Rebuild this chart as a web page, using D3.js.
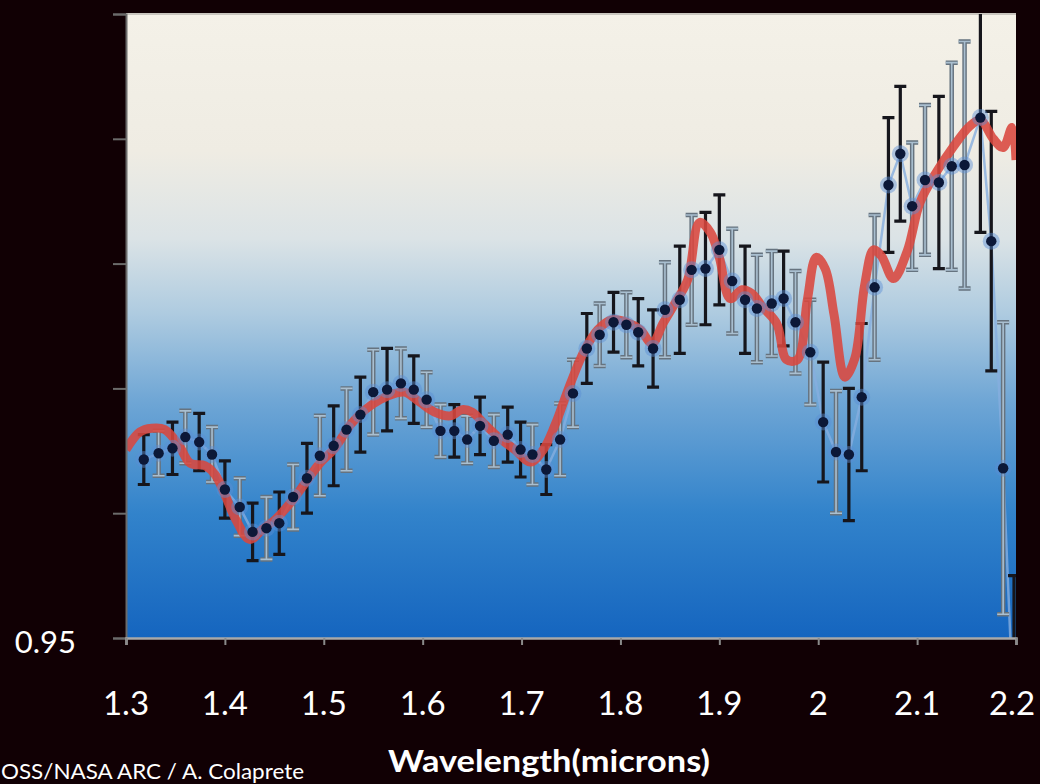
<!DOCTYPE html>
<html>
<head>
<meta charset="utf-8">
<script src="https://cdn.jsdelivr.net/npm/d3@7"></script>
<style>
  html, body { margin: 0; padding: 0; background: #110004; }
  svg { display: block; }
</style>
</head>
<body>
<svg id="chart"></svg>
<script>
"use strict";

// measured spectrum (wavelength in microns, relative reflectance, 1-sigma error, instrument group)
const wavelength = [1.318, 1.333, 1.347, 1.360, 1.374, 1.387, 1.400, 1.415, 1.428, 1.442,
  1.455, 1.469, 1.483, 1.496, 1.510, 1.523, 1.537, 1.550, 1.564, 1.578,
  1.591, 1.604, 1.618, 1.632, 1.645, 1.658, 1.672, 1.686, 1.699, 1.711,
  1.725, 1.739, 1.752, 1.766, 1.779, 1.793, 1.806, 1.818, 1.833, 1.845,
  1.860, 1.872, 1.886, 1.900, 1.913, 1.926, 1.938, 1.953, 1.965, 1.977,
  1.992, 2.005, 2.018, 2.031, 2.044, 2.057, 2.071, 2.083, 2.095, 2.108,
  2.122, 2.135, 2.148, 2.164, 2.175, 2.187, 2.198];
const reflect = [0.9643, 0.9648, 0.9652, 0.9661, 0.9657, 0.9647, 0.9619, 0.9605, 0.9585, 0.9588,
  0.9592, 0.9613, 0.9628, 0.9646, 0.9654, 0.9667, 0.9679, 0.9697, 0.9699, 0.9704,
  0.9699, 0.9691, 0.9666, 0.9666, 0.9659, 0.9670, 0.9658, 0.9663, 0.9651, 0.9647,
  0.9635, 0.9659, 0.9696, 0.9732, 0.9743, 0.9753, 0.9751, 0.9745, 0.9732, 0.9763,
  0.9771, 0.9795, 0.9796, 0.9811, 0.9786, 0.9771, 0.9764, 0.9768, 0.9772, 0.9753,
  0.9729, 0.9673, 0.9649, 0.9647, 0.9693, 0.9781, 0.9863, 0.9888, 0.9846, 0.9867,
  0.9865, 0.9878, 0.9879, 0.9917, 0.9818, 0.9636, 0.9430];
const errBar = [0.0020, 0.0018, 0.0021, 0.0021, 0.0023, 0.0022, 0.0023, 0.0023, 0.0023, 0.0025,
  0.0025, 0.0026, 0.0028, 0.0032, 0.0032, 0.0033, 0.0030, 0.0034, 0.0033, 0.0028,
  0.0027, 0.0022, 0.0021, 0.0021, 0.0019, 0.0023, 0.0021, 0.0022, 0.0022, 0.0024,
  0.0020, 0.0029, 0.0027, 0.0028, 0.0025, 0.0024, 0.0026, 0.0027, 0.0031, 0.0038,
  0.0043, 0.0044, 0.0045, 0.0044, 0.0042, 0.0043, 0.0043, 0.0042, 0.0038, 0.0041,
  0.0042, 0.0048, 0.0049, 0.0053, 0.0059, 0.0058, 0.0054, 0.0054, 0.0051, 0.0060,
  0.0069, 0.0083, 0.0099, 0.0092, 0.0104, 0.0117, 0.0120];
const group = ["d","l","d","l","d","l","d","l","d","l","d","l","d","l","d","l","d","l","d","l",
  "d","l","l","d","l","d","l","d","d","l","d","l","l","d","l","d","l","d","d","l",
  "d","l","d","d","l","d","l","l","d","l","l","d","l","d","d","l","d","d","l","l",
  "d","l","l","d","d","l","d"];

// model fit (red curve)
const modelWl = [1.300, 1.314, 1.326, 1.339, 1.353, 1.365, 1.380, 1.390, 1.400, 1.411,
  1.425, 1.438, 1.451, 1.466, 1.481, 1.496, 1.511, 1.527, 1.542, 1.557,
  1.572, 1.582, 1.597, 1.612, 1.628, 1.640, 1.650, 1.663, 1.678, 1.693,
  1.709, 1.722, 1.734, 1.749, 1.764, 1.777, 1.791, 1.806, 1.820, 1.832,
  1.843, 1.855, 1.868, 1.880, 1.891, 1.900, 1.911, 1.923, 1.933, 1.944,
  1.958, 1.968, 1.979, 1.989, 1.998, 2.007, 2.016, 2.027, 2.037, 2.047,
  2.056, 2.064, 2.076, 2.090, 2.103, 2.120, 2.136, 2.153, 2.164, 2.177,
  2.187, 2.196, 2.200];
const modelVal = [0.9651, 0.9665, 0.9668, 0.9667, 0.9655, 0.9640, 0.9638, 0.9631, 0.9615, 0.9595,
  0.9579, 0.9587, 0.9595, 0.9608, 0.9624, 0.9640, 0.9652, 0.9671, 0.9683, 0.9691,
  0.9696, 0.9697, 0.9689, 0.9681, 0.9678, 0.9683, 0.9681, 0.9671, 0.9660, 0.9651,
  0.9641, 0.9651, 0.9671, 0.9703, 0.9731, 0.9747, 0.9755, 0.9753, 0.9747, 0.9736,
  0.9752, 0.9768, 0.9787, 0.9833, 0.9825, 0.9805, 0.9772, 0.9779, 0.9776, 0.9765,
  0.9752, 0.9723, 0.9723, 0.9771, 0.9805, 0.9796, 0.9759, 0.9709, 0.9724, 0.9783,
  0.9811, 0.9806, 0.9788, 0.9810, 0.9849, 0.9874, 0.9893, 0.9910, 0.9915, 0.9900,
  0.9893, 0.9909, 0.9883];

const xTicks = [1.3, 1.4, 1.5, 1.6, 1.7, 1.8, 1.9, 2.0, 2.1, 2.2];
const yTicks = [0.95, 0.96, 0.97, 0.98, 0.99, 1.00];
const yLabelled = [0.95];

const W = 1040, H = 784;
const plot_left = 126, plot_right = 1016, plot_top = 14, plot_bottom = 638;

const svg = d3.select("#chart").attr("width", W).attr("height", H);

const x_scale = d3.scaleLinear().domain([1.3, 2.2]).range([plot_left, plot_right]);
const y_scale = d3.scaleLinear().domain([0.95, 1.0]).range([plot_bottom, plot_top]);

svg.append("rect").attr("width", W).attr("height", H).attr("fill", "#110004");

const defs = svg.append("defs");
const grad = defs.append("linearGradient").attr("id", "bg_grad")
  .attr("x1", 0).attr("y1", 0).attr("x2", 0).attr("y2", 1);
[["0%", "#f4f1e8"], ["22%", "#efece3"], ["36%", "#dbe3e6"], ["48%", "#aecbe0"],
 ["62%", "#6fa6d5"], ["80%", "#3283cb"], ["100%", "#1565bf"]]
  .forEach(s => grad.append("stop").attr("offset", s[0]).attr("stop-color", s[1]));

defs.append("clipPath").attr("id", "plot_clip").append("rect")
  .attr("x", plot_left).attr("y", plot_top)
  .attr("width", plot_right - plot_left).attr("height", plot_bottom - plot_top);

svg.append("rect")
  .attr("x", plot_left).attr("y", plot_top)
  .attr("width", plot_right - plot_left).attr("height", plot_bottom - plot_top)
  .attr("fill", "url(#bg_grad)");

// top border
svg.append("line")
  .attr("x1", plot_left).attr("x2", plot_right)
  .attr("y1", plot_top).attr("y2", plot_top)
  .attr("stroke", "#c9c6bf").attr("stroke-width", 2);

const data = wavelength.map((w, i) => ({ w: w, v: reflect[i], e: errBar[i], g: group[i] }));
const model = modelWl.map((w, i) => ({ w: w, v: modelVal[i] }));

const g_data = svg.append("g").attr("clip-path", "url(#plot_clip)");

// thin line joining the measured points
g_data.append("path")
  .datum(data)
  .attr("fill", "none")
  .attr("stroke", "#86aede")
  .attr("stroke-width", 2.5)
  .attr("opacity", 0.8)
  .attr("d", d3.line().x(d => x_scale(d.w)).y(d => y_scale(d.v)));

// error bars
const cap = 6;
const bars = g_data.selectAll(".err").data(data).enter().append("g").attr("class", "err");

const barPath = d => {
  const x = x_scale(d.w), y0 = y_scale(d.v + d.e), y1 = y_scale(d.v - d.e);
  return "M" + x + "," + y0 + "V" + y1 +
    "M" + (x - cap) + "," + y0 + "H" + (x + cap) +
    "M" + (x - cap) + "," + y1 + "H" + (x + cap);
};

bars.append("path")
  .attr("d", barPath)
  .attr("fill", "none")
  .attr("stroke", d => d.g == "d" ? "#16161c" : "#66737f")
  .attr("stroke-width", d => d.g == "d" ? 3.2 : 4.5);

bars.filter(d => d.g == "l").append("path")
  .attr("d", barPath)
  .attr("fill", "none")
  .attr("stroke", "#a9bfd0")
  .attr("stroke-width", 1.6);

// model curve
g_data.append("path")
  .datum(model)
  .attr("fill", "none")
  .attr("stroke", "#d9473d")
  .attr("stroke-width", 9)
  .attr("stroke-linejoin", "round")
  .attr("opacity", 0.88)
  .attr("d", d3.line().curve(d3.curveCatmullRom.alpha(0.5)).x(d => x_scale(d.w)).y(d => y_scale(d.v)));

// points with glow
g_data.selectAll(".halo").data(data).enter().append("circle")
  .attr("cx", d => x_scale(d.w)).attr("cy", d => y_scale(d.v))
  .attr("r", 8.5).attr("fill", "#5b8fd4").attr("opacity", 0.45);

g_data.selectAll(".pt").data(data).enter().append("circle")
  .attr("cx", d => x_scale(d.w)).attr("cy", d => y_scale(d.v))
  .attr("r", 5.2).attr("fill", "#0c1838");

// Axes
const y_axis = svg.append("g")
  .attr("transform", "translate(" + plot_left + ",0)")
  .call(d3.axisLeft(y_scale).tickValues(yTicks).tickSize(13).tickFormat(""));
y_axis.select(".domain").attr("stroke", "#6b6b6b").attr("stroke-width", 2);
y_axis.selectAll(".tick line").attr("stroke", "#6b6b6b").attr("stroke-width", 2);

svg.selectAll(".ylab").data(yLabelled).enter().append("text")
  .attr("x", 76).attr("y", d => y_scale(d) + 15)
  .attr("text-anchor", "end")
  .attr("fill", "#ffffff")
  .style("font-family", "Lato, 'Open Sans', sans-serif")
  .style("font-size", "31px")
  .text(d => d3.format(".2f")(d));

const x_axis = svg.append("g")
  .attr("transform", "translate(0," + plot_bottom + ")")
  .call(d3.axisBottom(x_scale).tickValues(xTicks).tickSize(7).tickFormat(""));
x_axis.select(".domain").attr("stroke", "#a9a9a9").attr("stroke-width", 2.5);
x_axis.selectAll(".tick line").attr("stroke", "#8a8a8a").attr("stroke-width", 2);

svg.selectAll(".xlab").data(xTicks).enter().append("text")
  .attr("x", d => Math.min(x_scale(d), 1012)).attr("y", 715)
  .attr("text-anchor", "middle")
  .attr("fill", "#ffffff")
  .style("font-family", "Lato, 'Open Sans', sans-serif")
  .style("font-size", "33px")
  .text(d => d3.format("")(d));

svg.append("text")
  .attr("x", 388).attr("y", 772)
  .attr("fill", "#ffffff")
  .attr("textLength", 322).attr("lengthAdjust", "spacingAndGlyphs")
  .style("font-family", "Lato, 'Open Sans', sans-serif")
  .style("font-size", "31px").style("font-weight", "bold")
  .text("Wavelength(microns)");

svg.append("text")
  .attr("x", 1).attr("y", 779)
  .attr("fill", "#ffffff")
  .attr("textLength", 303).attr("lengthAdjust", "spacingAndGlyphs")
  .style("font-family", "Lato, 'Open Sans', sans-serif")
  .style("font-size", "22px")
  .text("OSS/NASA ARC / A. Colaprete");
</script>
</body>
</html>
